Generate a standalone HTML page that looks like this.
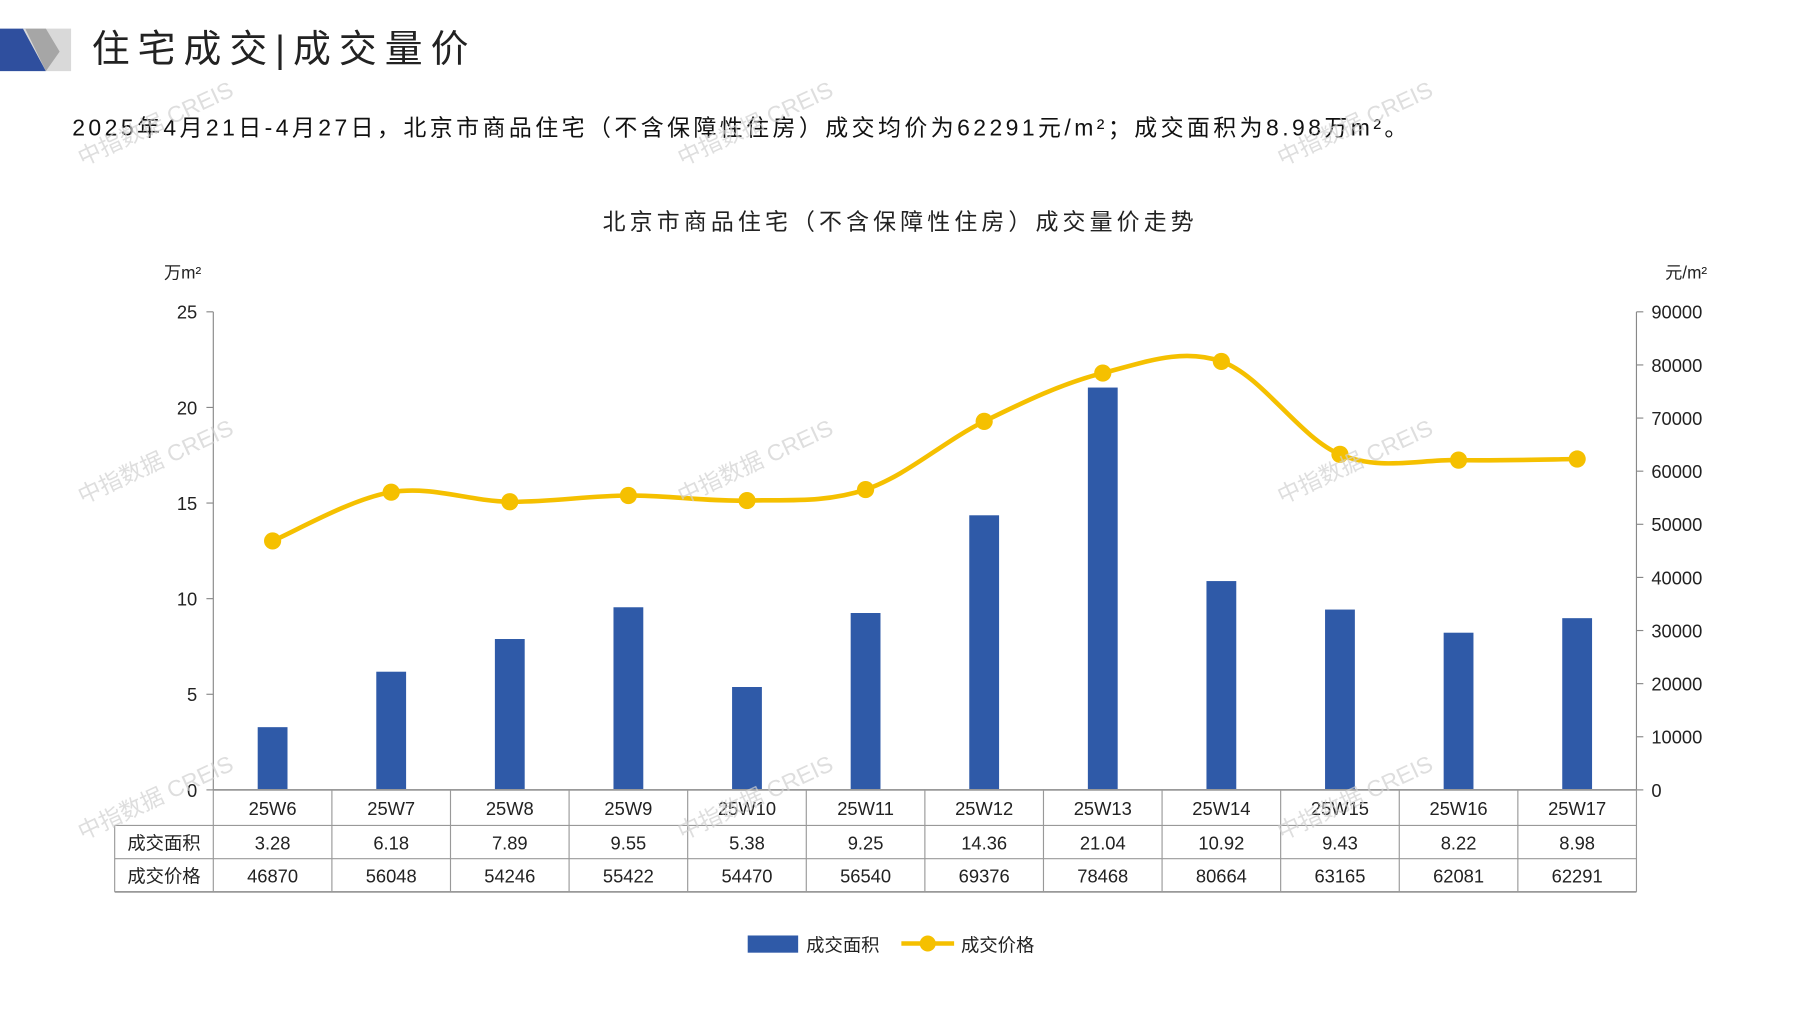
<!DOCTYPE html>
<html><head><meta charset="utf-8"><style>
html,body{margin:0;padding:0;background:#fff;}
svg{display:block;font-family:"Liberation Sans","Noto Sans CJK SC",sans-serif;}
</style></head><body>
<svg id="s" width="1797" height="1010" viewBox="0 0 1567 881" preserveAspectRatio="none" xmlns="http://www.w3.org/2000/svg">
<polygon points="0,25 22,25 40,62 0,62" fill="#2f4f9e"/>
<polygon points="20,25 62,25 62,62 40,62" fill="#d9d9d9"/>
<polygon points="22,25 40,25 52,45 40,62" fill="#a6a6a6"/>
<text x="80" y="54" font-size="33" fill="#222" letter-spacing="7">住宅成交|成交量价</text>
<text x="63" y="118" font-size="20" fill="#111" letter-spacing="3">2025年4月21日-4月27日，北京市商品住宅（不含保障性住房）成交均价为62291元/m²；成交面积为8.98万m²。</text>
<text x="785" y="200" font-size="20" fill="#222" text-anchor="middle" letter-spacing="3.6">北京市商品住宅（不含保障性住房）成交量价走势</text>
<text x="143" y="243" font-size="15" fill="#222">万m²</text>
<text x="1452" y="243" font-size="15" fill="#222">元/m²</text>
<g id="g"></g>
<g fill="#d0d0d0" font-size="20" opacity="0.7">
<text transform="translate(72,145) rotate(-25)">中指数据 CREIS</text>
<text transform="translate(595,145) rotate(-25)">中指数据 CREIS</text>
<text transform="translate(1118,145) rotate(-25)">中指数据 CREIS</text>
<text transform="translate(72,440) rotate(-25)">中指数据 CREIS</text>
<text transform="translate(595,440) rotate(-25)">中指数据 CREIS</text>
<text transform="translate(1118,440) rotate(-25)">中指数据 CREIS</text>
<text transform="translate(72,733) rotate(-25)">中指数据 CREIS</text>
<text transform="translate(595,733) rotate(-25)">中指数据 CREIS</text>
<text transform="translate(1118,733) rotate(-25)">中指数据 CREIS</text>
</g>
<rect x="652" y="816" width="44" height="15" fill="#2f5aa8"/>
<text x="703" y="830" font-size="16" fill="#222">成交面积</text>
<line x1="786" y1="823" x2="832" y2="823" stroke="#f5c000" stroke-width="4"/>
<circle cx="809" cy="823" r="7" fill="#f5c000"/>
<text x="838" y="830" font-size="16" fill="#222">成交价格</text>
</svg>
<script>
var cats=["25W6","25W7","25W8","25W9","25W10","25W11","25W12","25W13","25W14","25W15","25W16","25W17"];
var area=[3.28,6.18,7.89,9.55,5.38,9.25,14.36,21.04,10.92,9.43,8.22,8.98];
var price=[46870,56048,54246,55422,54470,56540,69376,78468,80664,63165,62081,62291];
var areaS=["3.28","6.18","7.89","9.55","5.38","9.25","14.36","21.04","10.92","9.43","8.22","8.98"];
var L=186,R=1427,T=272,B=689,cw=(R-L)/12,h='';
var ya=v=>B-v*(B-T)/25, yp=v=>B-v*(B-T)/90000;
h+='<line x1="'+L+'" y1="'+T+'" x2="'+L+'" y2="'+B+'" stroke="#888"/>';
h+='<line x1="'+R+'" y1="'+T+'" x2="'+R+'" y2="'+B+'" stroke="#888"/>';
for(var i=0;i<=5;i++){var y=ya(i*5);h+='<line x1="'+(L-6)+'" y1="'+y+'" x2="'+L+'" y2="'+y+'" stroke="#888"/><text x="172" y="'+(y+6)+'" font-size="16" text-anchor="end" fill="#222">'+(i*5)+'</text>';}
for(var i=0;i<=9;i++){var y=yp(i*10000);h+='<line x1="'+R+'" y1="'+y+'" x2="'+(R+6)+'" y2="'+y+'" stroke="#888"/><text x="1440" y="'+(y+6)+'" font-size="16" fill="#222">'+(i*10000)+'</text>';}
for(var i=0;i<12;i++){var cx=L+cw*(i+.5);h+='<rect x="'+(cx-13)+'" y="'+ya(area[i])+'" width="26" height="'+(B-ya(area[i]))+'" fill="#2f5aa8"/>';}
h+='<line x1="100" y1="720" x2="'+R+'" y2="720" stroke="#999"/><line x1="100" y1="749" x2="'+R+'" y2="749" stroke="#999"/><line x1="100" y1="778" x2="'+R+'" y2="778" stroke="#999" stroke-width="1.5"/><line x1="'+L+'" y1="'+B+'" x2="'+R+'" y2="'+B+'" stroke="#999" stroke-width="1.5"/>';
h+='<line x1="100" y1="720" x2="100" y2="778" stroke="#999"/>';
for(var i=0;i<=12;i++){var x=L+cw*i;h+='<line x1="'+x+'" y1="'+B+'" x2="'+x+'" y2="778" stroke="#999"/>';}
h+='<text x="143" y="741" font-size="16" text-anchor="middle" fill="#222">成交面积</text><text x="143" y="770" font-size="16" text-anchor="middle" fill="#222">成交价格</text>';
for(var i=0;i<12;i++){var cx=L+cw*(i+.5);
h+='<text x="'+cx+'" y="711" font-size="16" text-anchor="middle" fill="#222">'+cats[i]+'</text>';
h+='<text x="'+cx+'" y="741" font-size="16" text-anchor="middle" fill="#222">'+areaS[i]+'</text>';
h+='<text x="'+cx+'" y="770" font-size="16" text-anchor="middle" fill="#222">'+price[i]+'</text>';}
var P=price.map((v,i)=>[L+cw*(i+.5),yp(v)]);
var d='M'+P[0][0]+','+P[0][1];
for(var i=0;i<P.length-1;i++){var p0=P[Math.max(i-1,0)],p1=P[i],p2=P[i+1],p3=P[Math.min(i+2,P.length-1)],t=0.34;
var c1=[p1[0]+(p2[0]-p0[0])*t/2,p1[1]+(p2[1]-p0[1])*t/2],c2=[p2[0]-(p3[0]-p1[0])*t/2,p2[1]-(p3[1]-p1[1])*t/2];
d+=' C'+c1+' '+c2+' '+p2;}
h+='<path d="'+d+'" fill="none" stroke="#f5c000" stroke-width="4"/>';
P.forEach(p=>h+='<circle cx="'+p[0]+'" cy="'+p[1]+'" r="7.5" fill="#f5c000"/>');
document.getElementById('g').innerHTML=h;
</script>
</body></html>
